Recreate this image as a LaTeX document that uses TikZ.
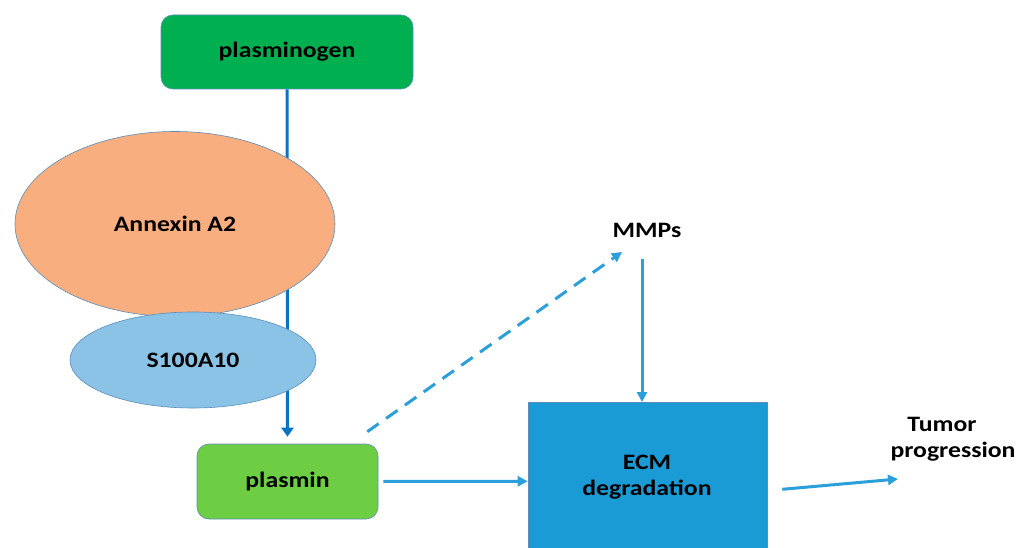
\documentclass[tikz,border=0pt]{standalone}
\usepackage{fontspec}
\setmainfont{Carlito}[FakeStretch=1.17]
\usetikzlibrary{arrows.meta,shapes.geometric}
\definecolor{plggreen}{HTML}{00B050}
\definecolor{pmgreen}{HTML}{6DCD43}
\definecolor{annex}{HTML}{F8AE7F}
\definecolor{sblue}{HTML}{8BC3E6}
\definecolor{ecmblue}{HTML}{1A9BD6}
\definecolor{edge}{HTML}{5B8DB8}
\definecolor{darkarrow}{HTML}{0B72C4}
\definecolor{lightarrow}{HTML}{2A9FD9}
\tikzset{
  lbl/.style={font=\bfseries\fontsize{22}{26}\selectfont, align=center, text=black},
  rbox/.style={lbl, draw=edge, line width=0.6pt, rounded corners=12pt, inner sep=0pt},
  ell/.style={lbl, ellipse, draw=edge, line width=0.6pt, inner sep=0pt},
  darr/.style={draw=darkarrow, line width=3pt, -{Triangle[length=9pt,width=12pt]}},
  larr/.style={draw=lightarrow, line width=3pt, -{Triangle[length=10pt,width=10pt]}},
}
\begin{document}
\begin{tikzpicture}[x=1pt,y=-1pt]
\useasboundingbox (0,0) rectangle (1031,548);
% nodes
\node[rbox, fill=plggreen, minimum width=252pt, minimum height=74pt] (plg) at (287,52) {plasminogen};
\node[rbox, fill=pmgreen, minimum width=181pt, minimum height=75pt] (pm) at (287.5,481.5) {plasmin};
% vertical arrow (behind ellipses)
\draw[darr, shorten >=7pt] (plg.south) -- (pm.north);
\node[ell, fill=annex, minimum width=320pt, minimum height=185pt] (anx) at (175,224) {Annexin A2};
\node[ell, fill=sblue, minimum width=246pt, minimum height=96pt] (s100) at (193,360) {S100A10};
\node[lbl] (mm) at (647,230) {MMPs};
\node[lbl, draw=edge, line width=0.6pt, fill=ecmblue, minimum width=239pt, minimum height=160pt, anchor=north] (ecm) at (647.5,402) {};
\node[lbl] (ecmt) at (647,477) {ECM\\degradation};
\node[lbl] (tp) at (953,439) {Tumor\hspace*{22pt}\\progression};
\coordinate (tpin) at (898,479);
% connectors
\draw[larr, dash pattern=on 14pt off 9pt] ([shift={(-11,-12)}]pm.north east) -- ([shift={(-25,22)}]mm.center);
\draw[larr] ([shift={(-5,29)}]mm.center) -- ([xshift=-5.5pt]ecm.north);
\draw[larr, shorten <=5pt] (pm.east) -- ([yshift=1pt]ecm.west);
\draw[larr] ([shift={(15,7)}]ecm.east) -- (tpin);
\end{tikzpicture}
\end{document}
